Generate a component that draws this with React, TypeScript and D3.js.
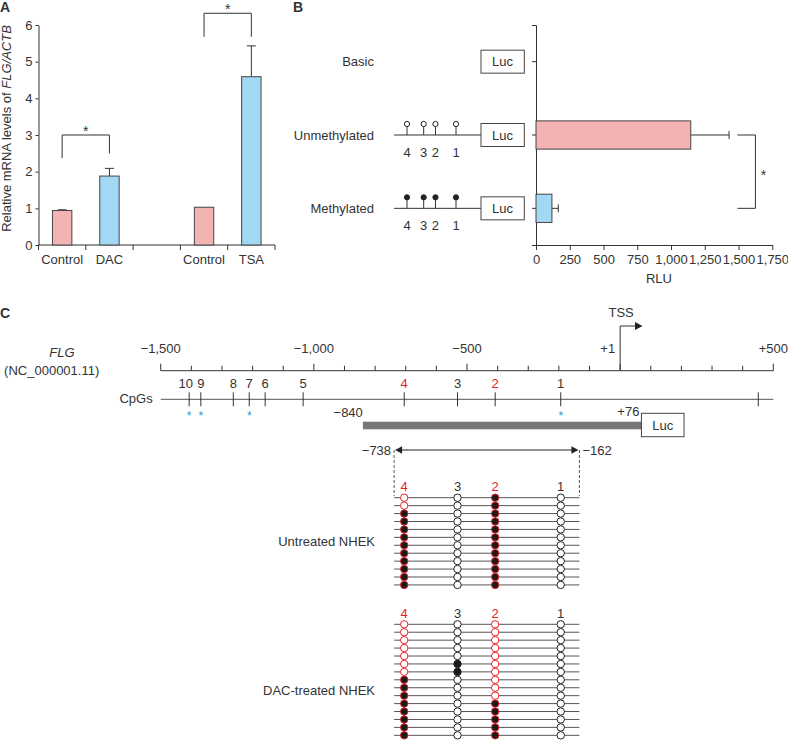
import React, { useRef, useEffect } from 'react';
import * as d3 from 'd3';

const FONT = '"Liberation Sans", Arial, Helvetica, sans-serif';
const INK = '#333333';
const PINK = '#f4b3b3';
const BLUE = '#a3d8f5';
const RED = '#e8212b';
const STAR_BLUE = '#1ba1e2';

// Panel A: relative mRNA levels
const aKeys = ['ctl1', 'dac', 'gap', 'ctl2', 'tsa'];
const aLabels = ['Control', 'DAC', '', 'Control', 'TSA'];
const aValues = [0.94, 1.88, null, 1.03, 4.59];
const aErrors = [0.02, 0.21, null, 0, 0.84];
const aTicks = [0, 1, 2, 3, 4, 5, 6];
const aSig = [
  { from: 'ctl1', to: 'dac', y: 3.0, left: 2.37, right: 2.5 },
  { from: 'ctl2', to: 'tsa', y: 6.32, left: 5.68, right: 5.68 },
];

// Panel B: luciferase reporter
const bRows = ['Basic', 'Unmethylated', 'Methylated'];
const bValues = [null, 1146, 118];
const bErrors = [null, 284, 47];
const bConstruct = [null, 'open', 'filled'];
const rluTicks = [0, 250, 500, 750, 1000, 1250, 1500, 1750];
const bSig = { from: 'Unmethylated', to: 'Methylated', x0: 1492, x1: 1625 };

// Panel C: FLG promoter map
const scaleTicks = [
  { bp: -1500, label: '−1,500' },
  { bp: -1000, label: '−1,000' },
  { bp: -500, label: '−500' },
  { bp: 0, label: '+1' },
  { bp: 500, label: '+500' },
];
const cpgIds = ['10', '9', '8', '7', '6', '5', '4', '3', '2', '1', ''];
const cpgBp = [-1407, -1369, -1263, -1211, -1159, -1035, -705, -531, -408, -194, 451];
const starredCpgs = ['10', '9', '7', '1'];
const redCpgs = ['4', '2'];
const promoter = [-840, 76];
const amplicon = [-738, -133];
const ampliconLabels = ['−738', '−162'];

// bisulfite sequencing, sites in order 4, 3, 2, 1 (1 = methylated)
const bsSites = ['4', '3', '2', '1'];
const samples = ['Untreated NHEK', 'DAC-treated NHEK'];
const untreatedRows = [
  '0010', '0010', '1010', '1010', '1010', '1010',
  '1010', '1010', '1010', '1010', '1010', '1010',
];
const dacRows = [
  '0000', '0000', '0000', '0000', '0000', '0100', '0100', '1000',
  '1000', '1000', '1010', '1010', '1010', '1010', '1010',
];

const App: React.FC = () => {
  const svgRef = useRef<SVGSVGElement>(null);

  useEffect(() => {
    if (!svgRef.current) return;
    const svg = d3.select(svgRef.current);
    svg.selectAll('*').remove();
    svg.attr('font-family', FONT);

    const text = (g: any, x: number, y: number, s: string, size = 13, anchor = 'start', fill = INK) =>
      g.append('text')
        .attr('x', x)
        .attr('y', y)
        .attr('font-size', size)
        .attr('text-anchor', anchor)
        .attr('fill', fill)
        .text(s);

    const styleAxis = (g: any) => {
      g.selectAll('path,line').attr('stroke', INK);
      g.selectAll('text').attr('font-size', 13).attr('font-family', FONT).attr('fill', INK);
    };

    // panel letters
    text(svg, 0, 12, 'A', 14).attr('font-weight', 700);
    text(svg, 293, 12, 'B', 14).attr('font-weight', 700);
    text(svg, 0, 318, 'C', 14).attr('font-weight', 700);

    // ---------- Panel A ----------
    const gA = svg.append('g');
    const ax = d3.scaleBand().domain(aKeys).range([38.5, 275]).paddingInner(0.59).paddingOuter(0.295);
    const ay = d3.scaleLinear().domain([0, 6]).range([245, 25]);
    const bw = ax.bandwidth();
    const mid = (k: string) => (ax(k) as number) + bw / 2;

    gA.append('g')
      .attr('transform', 'translate(38.5,0)')
      .call(d3.axisLeft(ay).tickValues(aTicks).tickFormat(d3.format('d') as any).tickSize(3).tickSizeOuter(0).tickPadding(3))
      .call(styleAxis);

    gA.append('line')
      .attr('x1', 38.5).attr('x2', 275)
      .attr('y1', ay(0)).attr('y2', ay(0))
      .attr('stroke', INK);
    const step = ax.step();
    d3.range(aKeys.length + 1).forEach(i => {
      const x = 38.5 + i * step;
      gA.append('line')
        .attr('x1', x).attr('x2', x)
        .attr('y1', ay(0)).attr('y2', ay(0) + 5)
        .attr('stroke', INK);
    });

    aKeys.forEach((k, i) => {
      if (aLabels[i]) text(gA, mid(k), 264, aLabels[i], 13, 'middle');
      const v = aValues[i];
      if (v == null) return;
      const e = aErrors[i] as number;
      const top = ay(v + e);
      if (e > 0) {
        gA.append('line')
          .attr('x1', mid(k)).attr('x2', mid(k))
          .attr('y1', ay(v)).attr('y2', top)
          .attr('stroke', INK);
        gA.append('line')
          .attr('x1', mid(k) - 4.5).attr('x2', mid(k) + 4.5)
          .attr('y1', top).attr('y2', top)
          .attr('stroke', INK);
      }
      gA.append('rect')
        .attr('x', ax(k) as number)
        .attr('y', ay(v))
        .attr('width', bw)
        .attr('height', ay(0) - ay(v))
        .attr('fill', aLabels[i] === 'Control' ? PINK : BLUE)
        .attr('stroke', '#444')
        .attr('stroke-width', 1);
    });

    aSig.forEach(s => {
      const x0 = mid(s.from), x1 = mid(s.to);
      gA.append('path')
        .attr('d', `M${x0},${ay(s.left)}V${ay(s.y)}H${x1}V${ay(s.right)}`)
        .attr('fill', 'none')
        .attr('stroke', INK);
      text(gA, (x0 + x1) / 2, ay(s.y) + 1, '*', 14, 'middle');
    });

    const yTitle = gA.append('text')
      .attr('transform', 'rotate(-90)')
      .attr('x', -128.5)
      .attr('y', 11)
      .attr('text-anchor', 'middle')
      .attr('font-size', 13)
      .attr('fill', INK);
    yTitle.append('tspan').text('Relative mRNA levels of ');
    yTitle.append('tspan').attr('font-style', 'italic').text('FLG/ACTB');

    // ---------- Panel B ----------
    const gB = svg.append('g');
    const bx = d3.scaleLinear().domain([0, 1750]).range([536, 772.3]);
    const by = d3.scaleBand().domain(bRows).range([25, 245]).paddingInner(0.615).paddingOuter(0.3075);
    const bh = by.bandwidth();
    const bc = (r: string) => (by(r) as number) + bh / 2;

    gB.append('g')
      .attr('transform', 'translate(536,0)')
      .call(d3.axisLeft(by).tickSize(4).tickSizeOuter(4).tickFormat(() => ''))
      .call(styleAxis);
    gB.append('g')
      .attr('transform', 'translate(0,245)')
      .call(d3.axisBottom(bx).tickValues(rluTicks).tickFormat(d3.format(',') as any).tickSize(5).tickSizeOuter(0).tickPadding(5))
      .call(styleAxis);
    text(gB, 659, 282.5, 'RLU', 13, 'middle');

    const mini = d3.scaleLinear().domain([cpgBp[6], cpgBp[9]]).range([407, 456]);

    bRows.forEach((r, i) => {
      const cy = bc(r);
      text(gB, 374, cy + 4.5, r, 13, 'end');
      if (bConstruct[i]) {
        gB.append('line')
          .attr('x1', 394).attr('x2', 481)
          .attr('y1', cy).attr('y2', cy)
          .attr('stroke', INK);
        bsSites.forEach(id => {
          const px = mini(cpgBp[cpgIds.indexOf(id)]);
          gB.append('line')
            .attr('x1', px).attr('x2', px)
            .attr('y1', cy).attr('y2', cy - 8.5)
            .attr('stroke', INK);
          gB.append('circle')
            .attr('cx', px).attr('cy', cy - 11)
            .attr('r', 2.6)
            .attr('fill', bConstruct[i] === 'filled' ? '#222' : '#fff')
            .attr('stroke', '#222');
          text(gB, px, cy + 21.5, id, 13, 'middle');
        });
      }
      gB.append('rect')
        .attr('x', 481).attr('y', cy - 11.5)
        .attr('width', 43.3).attr('height', 23)
        .attr('fill', '#fff').attr('stroke', '#444');
      text(gB, 502.6, cy + 4.5, 'Luc', 13, 'middle');

      const v = bValues[i];
      if (v == null) return;
      const e = bErrors[i] as number;
      gB.append('line')
        .attr('x1', bx(v)).attr('x2', bx(v + e))
        .attr('y1', cy).attr('y2', cy)
        .attr('stroke', INK);
      gB.append('line')
        .attr('x1', bx(v + e)).attr('x2', bx(v + e))
        .attr('y1', cy - 4).attr('y2', cy + 4)
        .attr('stroke', INK);
      gB.append('rect')
        .attr('x', bx(0)).attr('y', by(r) as number)
        .attr('width', bx(v) - bx(0)).attr('height', bh)
        .attr('fill', r === 'Unmethylated' ? PINK : BLUE)
        .attr('stroke', '#444');
    });

    const sy0 = bc(bSig.from), sy1 = bc(bSig.to);
    gB.append('path')
      .attr('d', `M${bx(bSig.x0)},${sy0}H${bx(bSig.x1)}V${sy1}H${bx(bSig.x0)}`)
      .attr('fill', 'none').attr('stroke', INK);
    text(gB, bx(bSig.x1) + 8, (sy0 + sy1) / 2 + 8, '*', 14, 'middle');

    // ---------- Panel C ----------
    const gC = svg.append('g');
    const cx = d3.scaleLinear().domain([-1500, 500]).range([160.7, 773.3]);
    const axisY = 370.7, cpgY = 399.3;

    text(gC, 62, 356.7, 'FLG', 13, 'middle').attr('font-style', 'italic');
    text(gC, 51.7, 375, '(NC_000001.11)', 13, 'middle');

    gC.append('line')
      .attr('x1', cx(-1500)).attr('x2', cx(500))
      .attr('y1', axisY).attr('y2', axisY)
      .attr('stroke', INK);
    d3.range(-1500, 501, 100).forEach(bp => {
      const major = bp % 500 === 0;
      gC.append('line')
        .attr('x1', cx(bp)).attr('x2', cx(bp))
        .attr('y1', axisY).attr('y2', axisY - (major ? 7 : 5))
        .attr('stroke', INK);
    });
    scaleTicks.forEach(t => {
      if (t.bp === 0) text(gC, cx(0) - 5, 353.3, t.label, 13, 'end');
      else text(gC, cx(t.bp), 353.3, t.label, 13, 'middle');
    });

    // TSS arrow
    gC.append('path')
      .attr('d', `M${cx(0)},${axisY}V326H635`)
      .attr('fill', 'none').attr('stroke', INK);
    gC.append('path')
      .attr('d', 'M635,322L642.5,326L635,330Z')
      .attr('fill', '#222');
    text(gC, cx(0) + 1, 316.7, 'TSS', 13, 'middle');

    // CpG line
    text(gC, 152.7, 403.3, 'CpGs', 13, 'end');
    gC.append('line')
      .attr('x1', cx(-1500)).attr('x2', cx(500))
      .attr('y1', cpgY).attr('y2', cpgY)
      .attr('stroke', '#555');
    cpgIds.forEach((id, i) => {
      const x = cx(cpgBp[i]);
      gC.append('line')
        .attr('x1', x).attr('x2', x)
        .attr('y1', cpgY - 7).attr('y2', cpgY + 7)
        .attr('stroke', INK);
      if (id) text(gC, x + (id === '10' ? -3.5 : 0), 388, id, 13, 'middle', redCpgs.includes(id) ? RED : INK);
      if (starredCpgs.includes(id)) text(gC, x, 420, '*', 12, 'middle', STAR_BLUE);
    });

    // promoter fragment
    gC.append('rect')
      .attr('x', cx(promoter[0])).attr('y', 421.7)
      .attr('width', cx(promoter[1]) - cx(promoter[0])).attr('height', 7.6)
      .attr('fill', '#777');
    text(gC, cx(promoter[0]), 416.7, '−840', 13, 'end');
    text(gC, cx(promoter[1]) - 4, 416.2, '+76', 13, 'end');
    gC.append('rect')
      .attr('x', cx(promoter[1]) - 2).attr('y', 413.3)
      .attr('width', 42.6).attr('height', 23.4)
      .attr('fill', '#fff').attr('stroke', '#444');
    text(gC, cx(promoter[1]) + 19.3, 430, 'Luc', 13, 'middle');

    // amplicon bracket
    const axL = cx(amplicon[0]), axR = cx(amplicon[1]);
    [axL, axR].forEach(x => {
      gC.append('line')
        .attr('x1', x).attr('x2', x)
        .attr('y1', 450).attr('y2', 496)
        .attr('stroke', '#555').attr('stroke-dasharray', '3,2');
    });
    gC.append('line')
      .attr('x1', axL + 4).attr('x2', axR - 4)
      .attr('y1', 450).attr('y2', 450)
      .attr('stroke', '#222').attr('stroke-width', 1.2);
    gC.append('path')
      .attr('d', `M${axL + 1},450L${axL + 8},446.3L${axL + 8},453.7Z M${axR - 1},450L${axR - 8},446.3L${axR - 8},453.7Z`)
      .attr('fill', '#222');
    text(gC, axL - 3, 454.5, ampliconLabels[0], 13, 'end');
    text(gC, axR + 3, 454.5, ampliconLabels[1], 13, 'start');

    // bisulfite lollipops
    const blockTops = [497.7, 624.3];
    const labelYs = [546.4, 694.7];
    const rowStep = 7.93;
    [untreatedRows, dacRows].forEach((rows, bi) => {
      const top = blockTops[bi];
      const ry = d3.scaleLinear().domain([0, 1]).range([top, top + rowStep]);
      text(gC, 375, labelYs[bi], samples[bi], 13, 'end');
      bsSites.forEach(id => {
        text(gC, cx(cpgBp[cpgIds.indexOf(id)]), top - 6.5, id, 13, 'middle', redCpgs.includes(id) ? RED : INK);
      });
      rows.forEach((_, ri) => {
        gC.append('line')
          .attr('x1', axL).attr('x2', axR)
          .attr('y1', ry(ri)).attr('y2', ry(ri))
          .attr('stroke', '#555');
      });
      rows.forEach((row, ri) => {
        bsSites.forEach((id, si) => {
          const red = redCpgs.includes(id);
          gC.append('circle')
            .attr('cx', cx(cpgBp[cpgIds.indexOf(id)]))
            .attr('cy', ry(ri))
            .attr('r', 3.7)
            .attr('fill', row[si] === '1' ? '#1a1a1a' : '#fff')
            .attr('stroke', red ? RED : '#222')
            .attr('stroke-width', 1);
        });
      });
    });
  }, []);

  return (
    <svg
      ref={svgRef}
      width={788}
      height={740}
      style={{ position: 'absolute', left: 0, top: 0, background: '#fff' }}
    />
  );
};

export default App;
